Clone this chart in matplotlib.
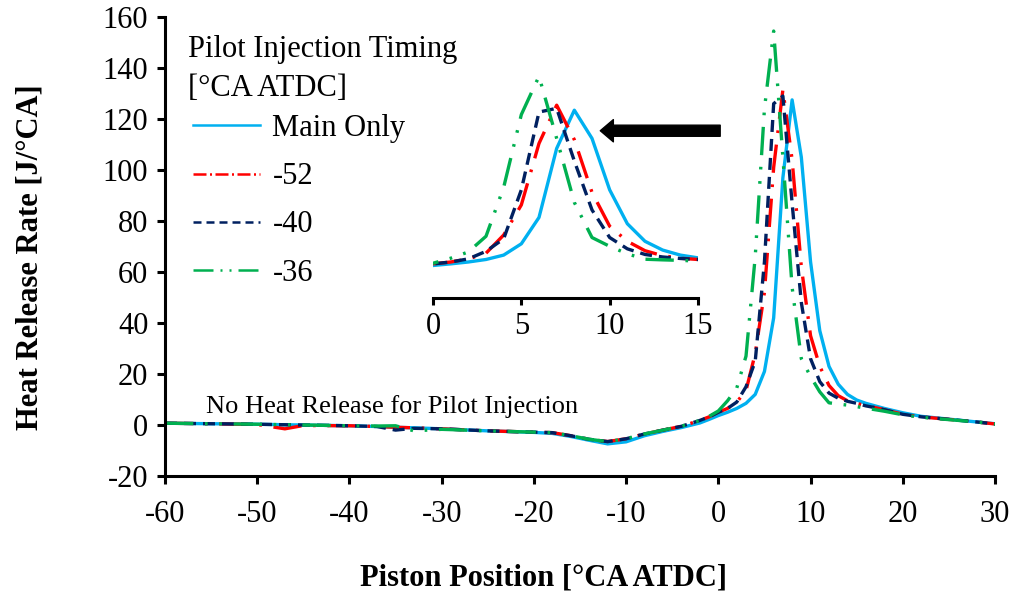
import matplotlib
matplotlib.use("Agg")
import matplotlib.pyplot as plt
from matplotlib.lines import Line2D

plt.rcParams["font.family"] = "Liberation Serif"
plt.rcParams["font.size"] = 22
plt.rcParams["axes.unicode_minus"] = False

# === DATA (crank angle in deg ATDC, heat release rate in J/deg) ===
x_deg = [-60, -55, -50, -47, -45, -40, -37, -35, -33, -30, -25, -20, -18, -16, -14, -12, -10, -8, -6, -4, -2, -1,
         0, 1, 2, 3, 4, 5, 6, 7, 8, 9, 10, 11, 12, 13, 14, 15,
         16, 17, 18, 20, 22, 25, 28, 30]

hrr_main_only = [0.7, 0.5, 0.3, 0.1, 0.0, -0.3, -0.6, -0.9, -1.1, -1.5, -2.3, -2.9, -3.3, -4.5, -6.0, -7.4, -6.6, -4.2, -2.5, -1.0, 0.8, 2.2,
                 3.7, 5.0, 6.5, 8.5, 12.0, 21.0, 42.0, 97.0, 127.5, 105.0, 64.0, 37.0, 23.0, 16.0, 12.0, 9.8,
                 8.5, 7.5, 6.5, 4.8, 3.4, 2.3, 1.2, 0.5]

hrr_m52 = [0.7, 0.5, 0.2, -1.5, -0.2, -0.3, -0.6, -0.9, -1.1, -1.5, -2.3, -2.8, -3.0, -4.2, -5.6, -6.5, -5.4, -3.5, -2.0, -0.5, 1.8, 3.2,
           5.0, 6.5, 9.0, 13.5, 28.0, 52.0, 101.0, 131.5, 104.0, 62.0, 35.0, 23.0, 15.5, 11.5, 9.5, 8.5,
           7.5, 6.8, 6.0, 4.2, 3.2, 2.2, 1.2, 0.4]

hrr_m40 = [0.7, 0.5, 0.3, 0.1, 0.0, -0.3, -0.6, -2.0, -1.3, -1.5, -2.3, -2.8, -3.0, -4.2, -5.6, -6.5, -5.4, -3.5, -2.0, -0.5, 1.8, 3.2,
           5.0, 6.5, 9.0, 15.0, 25.0, 64.0, 126.0, 129.0, 87.0, 48.0, 26.0, 17.0, 12.5, 10.5, 9.3, 8.5,
           7.5, 6.8, 6.0, 4.2, 3.2, 2.2, 1.2, 0.4]

hrr_m36 = [0.7, 0.5, 0.3, 0.1, 0.0, -0.3, -0.4, -0.3, -2.3, -1.7, -2.3, -2.8, -3.0, -4.2, -5.6, -6.5, -5.4, -3.5, -2.0, -0.5, 1.8, 3.4,
           5.5, 9.5, 14.5, 27.0, 66.0, 124.0, 154.5, 105.0, 54.0, 26.0, 19.0, 13.0, 8.7, 8.2, 7.8, 7.2,
           6.6, 6.0, 5.4, 4.0, 3.0, 2.1, 1.2, 0.4]

labels = ["Main Only", "-52", "-40", "-36"]
colors = ["#00B0F0", "#FF0000", "#002060", "#00B050"]

# dash patterns (units of line width): curve / legend sample
curve_dashes = ["-", (0, (8.5, 3.5, 0.8, 3.5)), (0, (3.6, 2.1)), (0, (8.5, 3.5, 0.8, 3.5, 0.8, 3.5))]
legend_dashes = ["-", (0, (5.2, 1.4, 0.8, 1.4)), (0, (3.2, 2.0)), (0, (8, 2.8, 0.8, 2.8, 0.8, 2.8))]

all_series = [hrr_main_only, hrr_m52, hrr_m40, hrr_m36]

# === Figure ===
W, H = 1016, 596
fig = plt.figure(figsize=(W / 100, H / 100), dpi=100)
ax = fig.add_axes([165 / W, 1 - 476 / H, 830 / W, 459 / H])

for vals, col, ls in zip(all_series, colors, curve_dashes):
    ax.plot(x_deg, vals, color=col, lw=2.4, linestyle=ls)

ax.set_xlim(-60, 30)
ax.set_ylim(-20, 160)
ax.set_xticks(range(-60, 31, 10))
ax.set_yticks(range(-20, 161, 20))
for side in ["top", "right"]:
    ax.spines[side].set_visible(False)
for side in ["left", "bottom"]:
    ax.spines[side].set_linewidth(2.2)
ax.tick_params(axis="x", direction="out", length=6, width=2.2, pad=11)
ax.tick_params(axis="y", direction="out", length=6, width=2.2, pad=6)

ax.text(-55.5, 4.6, "No Heat Release for Pilot Injection", fontsize=19, ha="left", va="baseline")

# arrow pointing to inset
ax.annotate("", xy=(-12.8, 115.4), xytext=(0.2, 115.4),
            arrowprops=dict(arrowstyle="simple,head_length=0.47,head_width=0.8,tail_width=0.4",
                            mutation_scale=20, color="black", shrinkA=0, shrinkB=0),
            annotation_clip=False)

# legend title as plain text, entries with thinner samples
fig.text(188 / W, 1 - 50 / H, "Pilot Injection Timing", fontsize=22, ha="left", va="center")
fig.text(188 / W, 1 - 88 / H, "[°CA ATDC]", fontsize=22, ha="left", va="center")
handles = [Line2D([0], [0], color=c, lw=1.8, linestyle=ls) for c, ls in zip(colors, legend_dashes)]
ax.legend(handles, labels, loc="upper left",
          bbox_to_anchor=(193 / W, 1 - 114 / H), bbox_transform=fig.transFigure,
          frameon=False, fontsize=22,
          handlelength=2.2, handletextpad=0.4, labelspacing=0.63, borderpad=0, borderaxespad=0)

# axis labels
fig.text(543 / W, 1 - 578 / H, "Piston Position [°CA ATDC]", fontsize=22, fontweight="bold",
         ha="center", va="center")
fig.text(30 / W, 1 - 257 / H, "Heat Release Rate [J/°CA]", fontsize=22, fontweight="bold",
         ha="center", va="center", rotation=90)

# === Inset: zoom on 0-15 deg ===
axin = fig.add_axes([433 / W, 1 - 298 / H, 265 / W, 238 / H])
axin.set_facecolor("none")
for vals, col, ls in zip(all_series, colors, curve_dashes):
    axin.plot(x_deg, vals, color=col, lw=2.4, linestyle=ls)
axin.set_xlim(0, 15)
axin.set_ylim(-22.2, 167.5)
axin.set_xticks([0, 5, 10, 15])
axin.set_yticks([])
for side in ["top", "right", "left"]:
    axin.spines[side].set_visible(False)
axin.spines["bottom"].set_linewidth(2.2)
axin.tick_params(axis="x", direction="out", length=5, width=2.2, pad=5)

fig.savefig("out.png", dpi=100)
